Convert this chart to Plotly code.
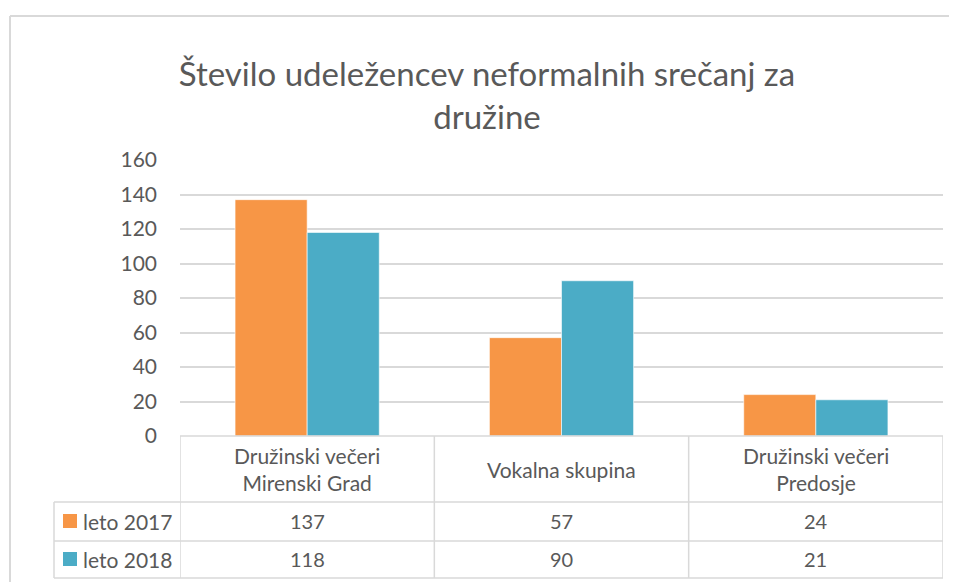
import plotly.graph_objects as go

categories = ["Družinski večeri<br>Mirenski Grad", "Vokalna skupina", "Družinski večeri<br>Predosje"]
series_names = ["leto 2017", "leto 2018"]
values_2017 = [137, 57, 24]
values_2018 = [118, 90, 21]
y_ticks = [0, 20, 40, 60, 80, 100, 120, 140, 160]
title_text = "Število udeležencev neformalnih srečanj za<br>družine"

colors = ["#F79646", "#4BACC6"]
series_values = [values_2017, values_2018]
FONT = "Lato"
TXT = "#595959"
GRID = "#D9D9D9"

OFF = 8  # page body margin
W, H = 957 - OFF, 582 - OFF
L, R, T, B = 180 - OFF, 14, 160 - OFF, 146
pw, ph = W - L - R, H - T - B

def px_x(p):
    return (p - OFF - L) / pw

def px_y(p):
    return (H - B - (p - OFF)) / ph

xs = list(range(len(categories)))
fig = go.Figure()
for name, vals, col in zip(series_names, series_values, colors):
    fig.add_trace(go.Bar(x=xs, y=vals, name=name, marker=dict(color=col, line=dict(color="rgba(255,255,255,0.6)", width=1))))

shapes = []
line = dict(color=GRID, width=1.5)
# outer chart border
shapes.append(dict(type="line", xref="paper", yref="paper", x0=px_x(10), x1=px_x(970), y0=px_y(16), y1=px_y(16), line=dict(color="#D9D9D9", width=2)))
shapes.append(dict(type="line", xref="paper", yref="paper", x0=px_x(10), x1=px_x(10), y0=px_y(16), y1=px_y(600), line=dict(color="#D9D9D9", width=2)))
# table vertical lines at category boundaries
n = len(categories)
for k in range(n + 1):
    shapes.append(dict(type="line", xref="x", yref="paper", x0=k - 0.5, x1=k - 0.5, y0=0, y1=px_y(578), line=line))
row_lines = [502, 541, 578]
shapes.append(dict(type="line", xref="x", yref="paper", x0=-0.5, x1=n - 0.5, y0=0, y1=0, line=line))
for rl in row_lines:
    shapes.append(dict(type="line", xref="paper", yref="paper", x0=px_x(54), x1=1, y0=px_y(rl), y1=px_y(rl), line=line))
shapes.append(dict(type="line", xref="paper", yref="paper", x0=px_x(54), x1=px_x(54), y0=px_y(502), y1=px_y(578), line=line))

annotations = []
for i, c in enumerate(categories):
    annotations.append(dict(x=i, xref="x", y=px_y(469), yref="paper", text=c, showarrow=False,
                            font=dict(family=FONT, size=21, color=TXT), xanchor="center", yanchor="middle"))
row_centers = [521, 559]
for r, (name, vals, col) in enumerate(zip(series_names, series_values, colors)):
    yc = row_centers[r]
    shapes.append(dict(type="rect", xref="paper", yref="paper", x0=px_x(63), x1=px_x(77), y0=px_y(yc - 7), y1=px_y(yc + 7),
                       fillcolor=col, line=dict(width=0)))
    annotations.append(dict(x=px_x(81), xref="paper", y=px_y(yc), yref="paper", text=name, showarrow=False,
                            font=dict(family=FONT, size=21, color=TXT), xanchor="left", yanchor="middle"))
    for i, v in enumerate(vals):
        annotations.append(dict(x=i, xref="x", y=px_y(yc), yref="paper", text=str(v), showarrow=False,
                                font=dict(family=FONT, size=20, color=TXT), xanchor="center", yanchor="middle"))

fig.update_layout(
    width=W, height=H,
    margin=dict(l=L, r=R, t=T, b=B),
    paper_bgcolor="white", plot_bgcolor="white",
    barmode="group", bargap=0.433, bargroupgap=0,
    showlegend=False,
    title=dict(text=title_text, x=(487 - OFF) / W, xanchor="center", y=1 - 78 / H, yanchor="middle",
               font=dict(family=FONT, size=33, color=TXT)),
    xaxis=dict(range=[-0.5, n - 0.5], showticklabels=False, showgrid=False, zeroline=False, showline=False, ticks=""),
    yaxis=dict(range=[0, 160], tickvals=y_ticks, showgrid=True, gridcolor=GRID, gridwidth=1.5, zeroline=False,
               showline=False, ticks="", ticklabelstandoff=22,
               tickfont=dict(family=FONT, size=21, color=TXT)),
    shapes=shapes, annotations=annotations,
)
fig.write_html("out.html")
